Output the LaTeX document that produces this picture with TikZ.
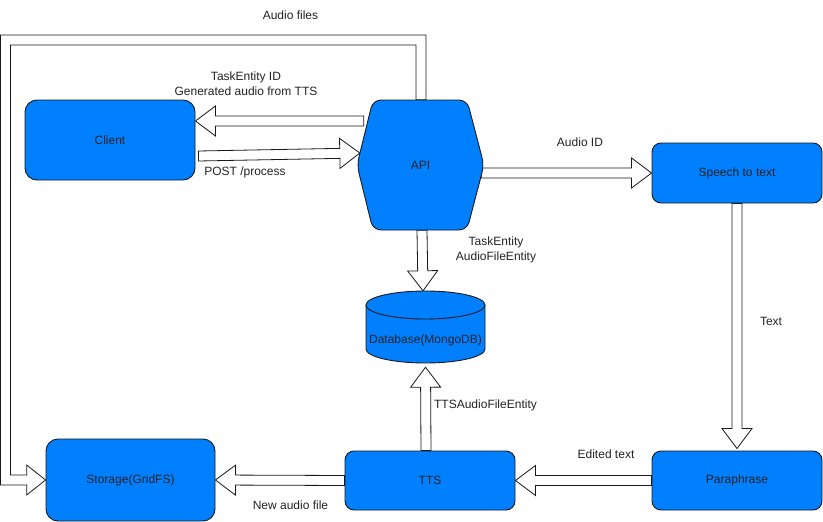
\documentclass[tikz,border=0pt]{standalone}
\usepackage{fontspec}
\setmainfont{Liberation Sans}
\usetikzlibrary{calc,backgrounds}
\definecolor{boxblue}{HTML}{007FFF}
\definecolor{txt}{HTML}{222222}
% hollow block arrow from #1 (start) to #2 (tip)
\newcommand\blockarr[2]{%
  \coordinate (hb) at ($(#2)!20pt!(#1)$);
  \draw[blockarrow] ($(#1)!5pt!90:(#2)$) -- ($(hb)!5pt!90:(#2)$) -- ($(hb)!15pt!90:(#2)$) -- (#2)
    -- ($(hb)!15pt!-90:(#2)$) -- ($(hb)!5pt!-90:(#2)$) -- ($(#1)!5pt!-90:(#2)$) -- cycle;}
\begin{document}
\begin{tikzpicture}[x=1pt,y=-1pt,
  font=\fontsize{12}{14.5}\selectfont,
  box/.style={draw=black!90, line width=0.9pt, fill=boxblue, rounded corners=#1, inner sep=0pt, text=txt},
  box/.default=12pt,
  blockarrow/.style={draw=black!90, line width=0.8pt, fill=white, line join=miter},
  lbl/.style={text=txt, inner sep=0pt, align=center}]
\useasboundingbox (0,0) rectangle (823,522);

% nodes
\node[box, minimum width=170pt, minimum height=80pt] (client) at (110,140) {Client};
\node[inner sep=0pt, minimum width=127pt, minimum height=130pt] (api) at (420.5,165) {};
\draw[box=8pt] (420,100) -- (467,100) -- (484,165) -- (467,230) -- (373,230) -- (357,165) -- (373,100) -- cycle;
\node[lbl] at (api.center) {API};
\node[box=9pt, minimum width=170pt, minimum height=60pt] (stt) at (737,173) {Speech to text};
\node[box=9pt, minimum width=170pt, minimum height=59pt] (para) at (737,480.5) {Paraphrase};
\node[box=9pt, minimum width=170pt, minimum height=59pt] (tts) at (430,480.5) {TTS};
\node[box, minimum width=169pt, minimum height=82pt] (storage) at (130.5,480) {Storage(GridFS)};
% database cylinder
\node[inner sep=0pt, minimum width=119pt, minimum height=72pt] (db) at (425.5,327) {};
\draw[draw=black!90, line width=0.9pt, fill=boxblue] (366,305) -- (366,349)
  arc[start angle=180, end angle=0, x radius=59.5, y radius=14] -- (485,305)
  arc[start angle=0, end angle=-180, x radius=59.5, y radius=14] -- cycle;
\draw[draw=black!90, line width=0.9pt] (366,305) arc[start angle=180, end angle=0, x radius=59.5, y radius=14];
\node[lbl] at ([yshift=-13pt]db.center) {Database(MongoDB)};

% connectors
\begin{scope}[on background layer]
  \coordinate (a1s) at ([xshift=7pt,yshift=44pt]api.west);
  \coordinate (a1t) at ([yshift=19pt]client.east);
  \blockarr{a1s}{a1t}
  \coordinate (a2s) at ([xshift=3pt,yshift=-16pt]client.east);
  \coordinate (a2t) at ([xshift=3pt,yshift=12pt]api.west);
  \blockarr{a2s}{a2t}
  \coordinate (a3s) at ([xshift=-3pt,yshift=-8pt]api.east);
  \coordinate (a3t) at (stt.west);
  \blockarr{a3s}{a3t}
  \coordinate (a4s) at ([xshift=1.5pt]api.south);
  \coordinate (a4t) at ([xshift=-2.5pt]db.north);
  \blockarr{a4s}{a4t}
  \coordinate (a5s) at ([xshift=-4pt]tts.north);
  \coordinate (a5t) at ([yshift=-4pt]db.south);
  \blockarr{a5s}{a5t}
  \coordinate (a6s) at (stt.south);
  \coordinate (a6t) at ([yshift=2pt]para.north);
  \blockarr{a6s}{a6t}
  \blockarr{para.west}{tts.east}
  \blockarr{tts.west}{storage.east}
  % API -> Storage (bent)
  \draw[blockarrow] ([xshift=-4.5pt]api.north) -- (416,45) -- (10.5,45) -- (10.5,475) -- (26.7,475) -- (26.7,465)
    -- (storage.west) -- (26.7,495) -- (26.7,485) -- (0.6,485) -- (0.6,35) -- (426,35) -- ([xshift=5.5pt]api.north) -- cycle;
\end{scope}

% labels
\node[lbl] at (290.5,15) {Audio files};
\node[lbl] at (246,83.5) {TaskEntity ID\\Generated audio from TTS};
\node[lbl] at (245,172.7) {POST /process};
\node[lbl] at (580,142.7) {Audio ID};
\node[lbl, font=\fontsize{12}{15}\selectfont] at (496,250) {TaskEntity\\AudioFileEntity};
\node[lbl] at (485.5,405) {TTSAudioFileEntity};
\node[lbl] at (771,321) {Text};
\node[lbl] at (606,454.3) {Edited text};
\node[lbl] at (290.5,505.7) {New audio file};
\end{tikzpicture}
\end{document}
